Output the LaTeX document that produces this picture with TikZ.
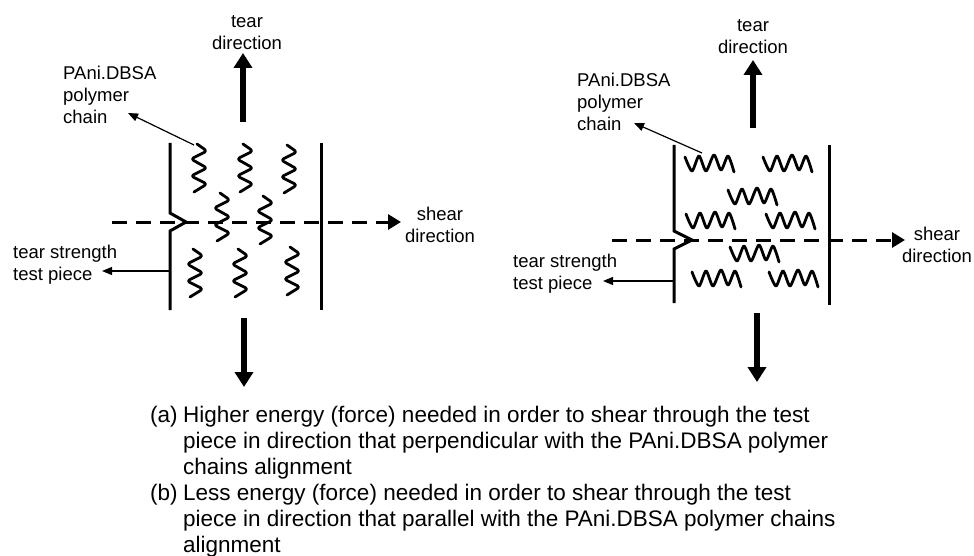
\documentclass[tikz,border=0pt]{standalone}
\usepackage{fontspec}
\setmainfont{Liberation Sans}
\usetikzlibrary{arrows.meta}
\begin{document}
\begin{tikzpicture}[x=1pt,y=-1pt,
  lbl/.style={font=\fontsize{18.5}{22}\selectfont, inner sep=0pt, align=center},
  lbll/.style={font=\fontsize{18.5}{22}\selectfont, inner sep=0pt, align=left},
  captext/.style={font=\fontsize{22.5}{26}\selectfont, inner sep=0pt, align=left},
  piece/.style={line width=3pt},
  thickarrow/.style={line width=6pt, -{Triangle[width=18pt,length=15pt]}},
  sheararrow/.style={line width=3pt, dash pattern=on 15pt off 9pt, -{Triangle[width=15pt,length=13pt]}},
  pointer/.style={line width=1.2pt, -{Triangle[width=8pt,length=10pt]}},
  chainline/.style={line width=2.8pt, line cap=round, line join=round},
  vchain/.pic={\draw[chainline, rounded corners=3pt] (-2,0) -- (8,7) -- (-8,15) -- (8,24) -- (-8,32) -- (8,40) -- (-5,48);},
  hchain/.pic={\draw[chainline] plot[smooth, tension=0.45] coordinates {(0,2) (7,16) (14,1) (21,16) (29,0) (36,15) (43,1) (49,17)};},
]
\fill[white] (0,0) rectangle (974,556);
\useasboundingbox (0,0) rectangle (974,556);

% ---------- left diagram (a) ----------
\coordinate (aL1) at (170,143);
\coordinate (aL2) at (170,213);
\coordinate (aN) at (186,222);
\coordinate (aL3) at (170,231);
\coordinate (aL4) at (170,310);
\draw[piece] (aL1) -- (aL2) -- (aN) -- (aL3) -- (aL4);
\coordinate (aR1) at (321,143);
\coordinate (aR2) at (321,310);
\draw[piece] (aR1) -- (aR2);

\coordinate (aS1) at (112,222);
\coordinate (aS2) at (401,222);
\draw[sheararrow] (aS1) -- (aS2);

\coordinate (aU1) at (243,122);
\coordinate (aU2) at (243,53);
\draw[thickarrow] (aU1) -- (aU2);
\coordinate (aD1) at (244,318);
\coordinate (aD2) at (244,387);
\draw[thickarrow] (aD1) -- (aD2);

\foreach \p in {(199,144),(245,144),(289,145),(222,193),(265,196),(195,249),(240,249),(292,247)}
  \pic at \p {vchain};

\node[lbl, anchor=north] (aTear) at (247,15) {tear\\direction};
\node[lbll, anchor=north west] (aPoly) at (63,66) {PAni.DBSA\\polymer\\chain};
\node[lbll, anchor=north west] (aTest) at (13,245) {tear strength\\test piece};
\node[lbl, anchor=north] (aShear) at (440,207) {shear\\direction};

\coordinate (aP1) at (194,145);
\coordinate (aP2) at (128,113);
\draw[pointer] (aP1) -- (aP2);
\coordinate (aT1) at (170,271);
\coordinate (aT2) at (102,271);
\draw[pointer] (aT1) -- (aT2);

% ---------- right diagram (b) ----------
\coordinate (bL1) at (674,145);
\coordinate (bL2) at (674,231);
\coordinate (bN) at (692,240);
\coordinate (bL3) at (674,249);
\coordinate (bL4) at (674,303);
\draw[piece] (bL1) -- (bL2) -- (bN) -- (bL3) -- (bL4);
\coordinate (bR1) at (829,145);
\coordinate (bR2) at (829,305);
\draw[piece] (bR1) -- (bR2);

\coordinate (bS1) at (612,240);
\coordinate (bS2) at (905,240);
\draw[sheararrow] (bS1) -- (bS2);

\coordinate (bU1) at (753,128);
\coordinate (bU2) at (753,60);
\draw[thickarrow] (bU1) -- (bU2);
\coordinate (bD1) at (757,313);
\coordinate (bD2) at (757,382);
\draw[thickarrow] (bD1) -- (bD2);

\foreach \p in {(685,155),(763,155),(728,188),(686,212),(766,212),(730,245),(692,270),(769,270)}
  \pic at \p {hchain};

\node[lbl, anchor=north] (bTear) at (753,19) {tear\\direction};
\node[lbll, anchor=north west] (bPoly) at (577,73) {PAni.DBSA\\polymer\\chain};
\node[lbll, anchor=north west] (bTest) at (513,254) {tear strength\\test piece};
\node[lbl, anchor=north] (bShear) at (937,227) {shear\\direction};

\coordinate (bP1) at (702,153);
\coordinate (bP2) at (634,123);
\draw[pointer] (bP1) -- (bP2);
\coordinate (bT1) at (674,281);
\coordinate (bT2) at (603,281);
\draw[pointer] (bT1) -- (bT2);

% ---------- caption ----------
\node[captext, anchor=base west] (capa) at (150,422) {(a)};
\node[captext, anchor=north west] (capatext) at (183,405.6) {Higher energy (force) needed in order to shear through the test\\piece in direction that perpendicular with the PAni.DBSA polymer\\chains alignment};
\node[captext, anchor=base west] (capb) at (150,500) {(b)};
\node[captext, anchor=north west] (capbtext) at (183,483.6) {Less energy (force) needed in order to shear through the test\\piece in direction that parallel with the PAni.DBSA polymer chains\\alignment};
\end{tikzpicture}
\end{document}
